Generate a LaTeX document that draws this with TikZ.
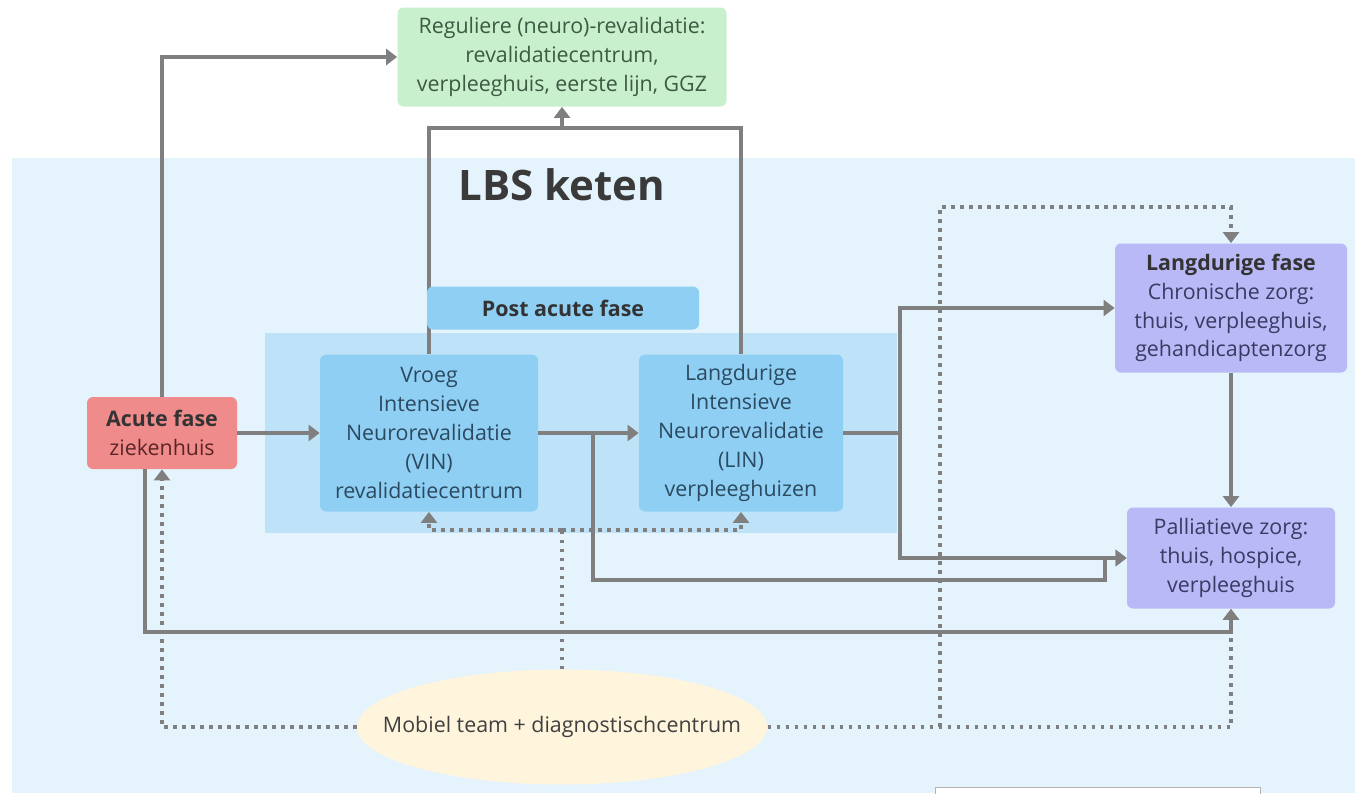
\documentclass[tikz,border=0pt]{standalone}
\usepackage{fontspec}
\setmainfont{Open Sans}
\usetikzlibrary{arrows.meta,shapes.geometric}
\definecolor{bgblue}{HTML}{E4F3FC}
\definecolor{zone}{HTML}{BEE3F8}
\definecolor{boxblue}{HTML}{8FCFF4}
\definecolor{bluetext}{HTML}{2B4A60}
\definecolor{regfill}{HTML}{C8F0CD}
\definecolor{regtext}{HTML}{3D5A42}
\definecolor{acutefill}{HTML}{F08B8B}
\definecolor{acutetext}{HTML}{5B2626}
\definecolor{lavender}{HTML}{B9B9F7}
\definecolor{lavtext}{HTML}{3A3A62}
\definecolor{mobfill}{HTML}{FFF5DD}
\definecolor{linegray}{HTML}{7F7F7F}
\definecolor{titletext}{HTML}{3A3A3A}

\begin{document}
\begin{tikzpicture}[x=0.5pt,y=-0.5pt,
  box/.style={rounded corners=3pt,align=center,inner sep=0pt,font=\fontsize{10.7}{14.4}\selectfont},
  conn/.style={draw=linegray,line width=1.8pt},
  arr/.style={conn,-{Triangle[width=8pt,length=5.5pt]}},
  dots/.style={conn,dash pattern=on 1.8pt off 2.7pt},
  darr/.style={dots,-{Triangle[width=8pt,length=5.5pt]}}]

  \useasboundingbox (0,0) rectangle (1355,793);
  \fill[white] (0,0) rectangle (1355,793);
  \fill[bgblue] (12,158) rectangle (1355,793);
  \fill[zone] (265,333) rectangle (897,533);

  \node[box,fill=regfill,text=regtext,minimum width=164.5pt,minimum height=49.5pt] (reg) at (562,57)
    {Reguliere (neuro)-revalidatie:\\revalidatiecentrum,\\verpleeghuis, eerste lijn, GGZ};
  \node[text=titletext,font=\fontsize{21}{24}\selectfont\bfseries] (lbs) at (562,185) {LBS keten};
  \node[box,fill=boxblue,text=bluetext,minimum width=109pt,minimum height=78.5pt] (vin) at (429,433)
    {Vroeg\\Intensieve\\Neurorevalidatie\\(VIN)\\revalidatiecentrum};
  \node[box,fill=boxblue,text=bluetext,minimum width=102pt,minimum height=78.5pt] (lin) at (741,433)
    {Langdurige\\Intensieve\\Neurorevalidatie\\(LIN)\\verpleeghuizen};
  \node[box,fill=acutefill,text=acutetext,minimum width=75pt,minimum height=36pt] (acute) at (162,433)
    {\textbf{\color{black!80}Acute fase}\\ziekenhuis};
  \node[box,fill=lavender,text=lavtext,minimum width=116pt,minimum height=64.5pt] (lang) at (1231,308)
    {\textbf{\color{black!80}Langdurige fase}\\Chronische zorg:\\thuis, verpleeghuis,\\gehandicaptenzorg};
  \node[box,fill=lavender,text=lavtext,minimum width=104pt,minimum height=50.5pt] (pall) at (1231,558)
    {Palliatieve zorg:\\thuis, hospice,\\verpleeghuis};
  \node[ellipse,fill=mobfill,text=black!75,inner xsep=-17pt,inner ysep=0pt,minimum width=205pt,
    minimum height=57.5pt,font=\fontsize{10.7}{14.4}\selectfont] (mob) at (562,727) {Mobiel team + diagnostischcentrum};

  \coordinate (bus) at (562,128);
  \coordinate (j1) at (593,433);
  \coordinate (j2) at (900,433);
  \coordinate (low) at (1105,580);
  \coordinate (rail) at (145,632);
  \coordinate (dbus) at (562,530);
  \coordinate (dfoot) at (940,727);
  \coordinate (dtop) at (940,207);

  \draw[arr] (acute.north) |- (reg.west);
  \draw[arr] (acute) -- (vin);
  \draw[arr] (vin) -- (lin);
  \draw[conn] (vin.north) |- (bus) -| (lin.north);
  \draw[arr] (bus) -- (reg.south);
  \draw[arr] (j1) |- (low) |- (pall.west);
  \draw[arr] (lin) -- (j2) |- (lang.west);
  \draw[arr] (j2) |- (pall.west);
  \draw[arr] (lang) -- (pall);
  \draw[arr] (rail |- acute.south) -- (rail) -| (pall.south);

  \draw[darr] (mob.west) -| (acute.south);
  \draw[dots] (mob.north) -- (dbus);
  \draw[darr] (dbus) -| (vin.south);
  \draw[darr] (dbus) -| (lin.south);
  \draw[darr] (mob.east) -| (pall.south);
  \draw[darr] (dfoot) -- (dtop) -| (lang.north);

  \node[box,fill=boxblue,text=black!80,font=\fontsize{10.7}{14.4}\selectfont\bfseries,
    minimum width=136pt,minimum height=21.5pt] (post) at (563,308) {Post acute fase};

  \draw[linegray!60,fill=white,line width=0.5pt] (935,787) rectangle (1260,800);
\end{tikzpicture}
\end{document}
